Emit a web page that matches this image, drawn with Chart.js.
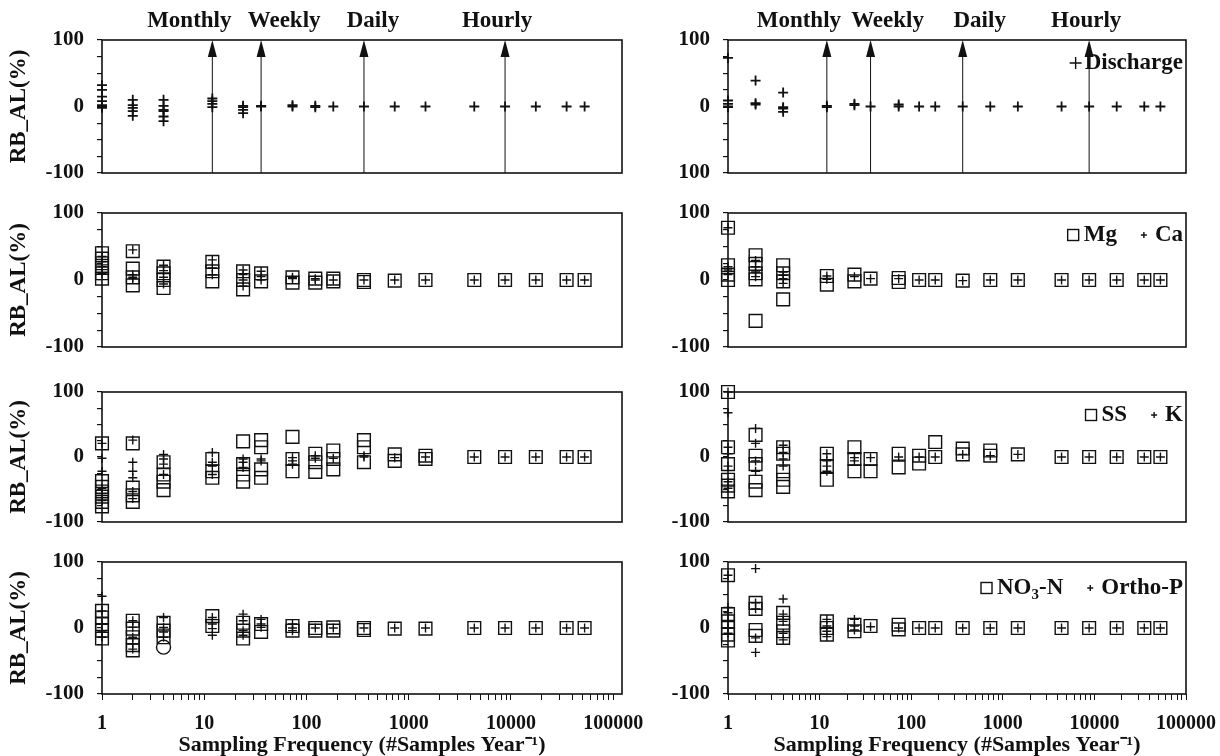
<!DOCTYPE html>
<html>
<head>
<meta charset="utf-8">
<script src="https://cdn.jsdelivr.net/npm/chart.js@4.4.1/dist/chart.umd.min.js"></script>
<style>
html, body { margin: 0; padding: 0; background: #fff; }
#wrap { position: relative; width: 1220px; height: 756px; }
#wrap canvas { position: absolute; left: 0; top: 0; }
</style>
</head>
<body>
<div id="wrap"></div>
<script>
// sampling frequencies (#samples per year), one column of markers each
const freqs = [1, 2, 4, 12, 24, 36, 73, 122, 183, 365, 730, 1460, 4380, 8760, 17520, 35040, 52560];
const xTickLabels = ['1', '10', '100', '1000', '10000', '100000'];
const yTickLabels = ['-100', '0', '100'];
const yTickLabelsRT = ['100', '0', '100'];
const markFreqs = [12, 36, 365, 8760];
const markNames = ['Monthly', 'Weekly', 'Daily', 'Hourly'];

// left column
const dischargeL = [[32, 25, 15, 8, 2, 0, -2], [10, 2, -2, -7, -14], [10, 1, -5, -7, -15, -22], [12, 8, 4, -1],
  [1, -1, -5, -10], [1, 0], [2, 0], [1, -1], [0], [0], [0], [0], [0], [0], [0], [0], [0]];
const mgL = [[40, 32, 25, 18, 10, 2], [43, 17, 4, -8], [20, 10, 0, -12], [27, 13, -2], [13, 0, -14], [10, -2],
  [4, -4], [2, -4], [2, -2], [0, -3], [-1], [0], [0], [0], [0], [0], [0]];
const caL = [[35, 27, 20, 10], [45, 8, 4, 2], [22, 14, 4, -6], [30, 18, 8], [15, 8, 0, -9], [13, 5, 0],
  [4, 2], [2, 0], [0], [0], [0], [0], [0], [0], [0], [0], [0]];
const ssL = [[21, -37, -46, -53, -61, -69, -76], [21, -47, -59, -69], [-8, -27, -38, -51], [-3, -22, -32],
  [24, -11, -27, -38], [26, 15, -19, -32], [31, -3, -22], [5, -8, -23], [10, -3, -19], [26, 15, -8],
  [4, -6], [2, -3], [0], [0], [0], [0], [0]];
const kL = [[21, -2, -22, -48, -59, -67], [26, -8, -22, -32, -53, -64], [4, -3, -11, -27], [7, -8, -14, -27],
  [-3, -8, -16], [-3, -6], [-1, -6, -11], [2, -2], [-2], [2, 0], [-1], [0], [0], [0], [0], [0], [0]];
const no3L = [[26, 16, 6, -4, -16], [11, -1, -14, -26, -34], [8, -4, -14], [18, 3], [8, -4, -16], [6, -6],
  [3, -4], [0, -4], [1, -4], [0, -3], [-1], [-1], [0], [0], [0], [0], [0]];
const orthoL = [[48, 26, 6, -6, -14], [11, 1, -14, -24, -32], [16, 1, -6, -14], [16, 6, -1, -11],
  [21, 11, -4, -11], [13, 6, 1], [6, 0, -4], [0], [0], [0], [0], [0], [0], [0], [0], [0], [0]];
const outlierFreqL = [4];
const outlierL = [-29];

// right column
const dischargeR = [[73, 9, 4, 0, -1], [39, 5, 3], [21, -1, -3, -8], [1, -1], [4, 2], [0], [3, 0],
  [0], [0], [0], [0], [0], [0], [0], [0], [0], [0]];
const mgR = [[78, 22, 8, 0], [37, 24, 10, 1, -61], [22, 10, -2, -29], [6, -7], [8, -2], [2], [3, -3],
  [0], [0], [-1], [0], [0], [0], [0], [0], [0], [0]];
const caR = [[78, 20, 15, 8], [29, 20, 12, 5], [12, 7, 2, -5], [6, 1], [5], [2], [2],
  [0], [0], [-1], [0], [0], [0], [0], [0], [0], [0]];
const ssR = [[100, 15, -11, -35, -44, -53], [34, 2, -11, -38, -51], [15, 5, -22, -35, -46], [5, -14, -35],
  [15, -3, -22], [-3, -22], [5, -16], [2, -10], [23, 0], [13, 4], [10, 2], [4], [0], [0], [0], [0], [0]];
const kR = [[100, 68, 15, 5, -14, -38, -48], [44, 21, -6, -22], [18, 7, -3, -14], [5, -6, -14, -22],
  [-1, -6], [-1], [0], [0], [0], [4], [2], [4], [0], [0], [0], [0], [0]];
const no3R = [[80, 21, 10, 0, -10, -19], [38, 29, -3, -12], [23, 8, -5, -15], [10, 0, -10], [5, -5], [3],
  [5, -2], [0], [0], [0], [0], [0], [0], [0], [0], [0], [0]];
const orthoR = [[80, 31, 23, 10, 0, -8], [90, 38, 29, -15, -37], [44, 21, 10, -8, -18], [13, 3, -5, -13],
  [13, 3, -3], [2], [0], [0], [0], [0], [0], [0], [0], [0], [0], [0], [0]];

const FONT = 'Liberation Serif';
const INK = '#111';
const wrap = document.getElementById('wrap');

function pts(vals) {
  const out = [];
  vals.forEach((col, i) => col.forEach(v => out.push({ x: freqs[i], y: v })));
  return out;
}

function squares(label, vals) {
  return { label: label, data: pts(vals), pointStyle: 'rect', pointRadius: 9, pointBorderWidth: 1.4,
    borderColor: INK, backgroundColor: 'rgba(0,0,0,0)', clip: false, kind: 'rect' };
}
function crosses(label, vals, r, w) {
  return { label: label, data: pts(vals), pointStyle: 'cross', pointRadius: r || 4.5, pointBorderWidth: w || 1.4,
    borderColor: INK, backgroundColor: INK, clip: false, kind: 'cross' };
}

// draws text with unicode subscript digits lowered
const SUBS = '₀₁₂₃₄₅₆₇₈₉';
function richParts(text) {
  const parts = [];
  for (const ch of text) {
    const sub = SUBS.indexOf(ch) >= 0;
    const c = sub ? String(SUBS.indexOf(ch)) : ch;
    if (parts.length && parts[parts.length - 1].sub === sub) parts[parts.length - 1].t += c;
    else parts.push({ t: c, sub: sub });
  }
  return parts;
}
function richWidth(ctx, text, size) {
  let w = 0;
  richParts(text).forEach(p => {
    ctx.font = 'bold ' + (p.sub ? size * 0.65 : size) + 'px "' + FONT + '"';
    w += ctx.measureText(p.t).width;
  });
  return w;
}
function drawRich(ctx, text, x, y, size) {
  richParts(text).forEach(p => {
    ctx.font = 'bold ' + (p.sub ? size * 0.65 : size) + 'px "' + FONT + '"';
    ctx.fillText(p.t, x, p.sub ? y + size * 0.3 : y);
    x += ctx.measureText(p.t).width;
  });
}

function makePanel(p) {
  const canvas = document.createElement('canvas');
  canvas.width = 1220;
  canvas.height = 756;
  wrap.appendChild(canvas);
  const axisLeft = p.col === 0 ? 0 : 640;
  const bottomRow = p.row === 3;
  const yLabels = p.yLabels || yTickLabels;

  const frame = {
    id: 'frame',
    afterDraw(chart) {
      const ca = chart.chartArea, ctx = chart.ctx;
      ctx.save();
      ctx.strokeStyle = INK;
      ctx.lineWidth = 1.6;
      ctx.strokeRect(ca.left, ca.top, ca.right - ca.left, ca.bottom - ca.top);
      ctx.restore();
    }
  };

  const marks = {
    id: 'marks',
    afterDatasetsDraw(chart) {
      if (p.row !== 0) return;
      const ca = chart.chartArea, ctx = chart.ctx, xs = chart.scales.x;
      ctx.save();
      ctx.strokeStyle = INK;
      ctx.fillStyle = INK;
      markFreqs.forEach((f, i) => {
        const px = xs.getPixelForValue(f);
        ctx.lineWidth = 1;
        ctx.beginPath();
        ctx.moveTo(px, ca.bottom);
        ctx.lineTo(px, ca.top + 12);
        ctx.stroke();
        ctx.beginPath();
        ctx.moveTo(px, ca.top);
        ctx.lineTo(px - 4.5, ca.top + 17);
        ctx.lineTo(px + 4.5, ca.top + 17);
        ctx.closePath();
        ctx.fill();
        ctx.font = 'bold 23px "' + FONT + '"';
        ctx.textAlign = 'center';
        ctx.textBaseline = 'middle';
        ctx.fillText(markNames[i], px + p.markOff[i], 21);
      });
      ctx.restore();
    }
  };

  const legendBox = {
    id: 'legendBox',
    afterDraw(chart) {
      if (!p.legend) return;
      const ca = chart.chartArea, ctx = chart.ctx;
      const size = 23;
      const y = ca.top + p.legendY;
      const sets = chart.data.datasets;
      ctx.save();
      ctx.fillStyle = INK;
      ctx.strokeStyle = INK;
      ctx.textAlign = 'left';
      ctx.textBaseline = 'middle';
      let xr = ca.right - 3;
      for (let i = sets.length - 1; i >= 0; i--) {
        const ds = sets[i];
        if (!ds.label) continue;
        const w = richWidth(ctx, ds.label, size);
        drawRich(ctx, ds.label, xr - w, y, size);
        xr -= w;
        if (ds.kind === 'rect') {
          xr -= 5;
          ctx.lineWidth = 1.4;
          ctx.strokeRect(xr - 11, y - 5.5, 11, 11);
          xr -= 11;
        } else {
          const s = p.row === 0 ? 12 : 6;
          xr -= p.row === 0 ? 3 : 8;
          ctx.lineWidth = 1.4;
          ctx.beginPath();
          ctx.moveTo(xr - s, y); ctx.lineTo(xr, y);
          ctx.moveTo(xr - s / 2, y - s / 2); ctx.lineTo(xr - s / 2, y + s / 2);
          ctx.stroke();
          xr -= s;
        }
        xr -= 24;
      }
      ctx.restore();
    }
  };

  const xScale = {
    type: 'logarithmic',
    min: 1,
    max: p.xmax,
    display: bottomRow,
    afterBuildTicks: s => {
      const t = [];
      for (let e = 0; e <= 5; e++) {
        for (let m = 1; m <= 9; m++) {
          const v = m * Math.pow(10, e);
          if (v <= s.max) t.push({ value: v });
        }
      }
      s.ticks = t;
    },
    border: { display: false },
    grid: { drawOnChartArea: false, drawTicks: true, tickLength: 6, color: INK, lineWidth: 1 },
    ticks: {
      autoSkip: false, maxRotation: 0, padding: 12, color: INK,
      font: { family: FONT, size: 20, weight: 'bold' },
      callback: v => xTickLabels.includes(String(v)) ? String(v) : ''
    },
    title: {
      display: true, text: 'Sampling Frequency (#Samples Year⁻¹)', color: INK,
      font: { family: FONT, size: 22, weight: 'bold', lineHeight: 1 }, padding: { top: 0, bottom: 0 }
    }
  };
  if (bottomRow) {
    xScale.afterFit = s => {
      s.height = 756 - p.b;
      s.paddingLeft = 0;
      s.paddingRight = 0;
    };
  }

  new Chart(canvas, {
    type: 'scatter',
    data: { datasets: p.datasets },
    options: {
      responsive: false,
      animation: false,
      events: [],
      layout: { padding: { left: axisLeft, top: p.t, right: 1220 - p.r, bottom: bottomRow ? 0 : 756 - p.b } },
      plugins: { legend: { display: false }, tooltip: { enabled: false } },
      scales: {
        x: xScale,
        y: {
          min: -100,
          max: 100,
          afterFit: s => { s.width = p.l - axisLeft; },
          afterBuildTicks: s => {
            const t = [];
            for (let v = -100; v <= 100; v += 25) t.push({ value: v });
            s.ticks = t;
          },
          border: { display: false },
          grid: { drawOnChartArea: false, drawTicks: true, tickLength: 5, color: INK, lineWidth: 1.2 },
          ticks: {
            autoSkip: false, padding: 13, color: INK,
            font: { family: FONT, size: 21, weight: 'bold' },
            callback: v => v % 100 === 0 ? yLabels[(v + 100) / 100] : ''
          },
          title: {
            display: p.col === 0, text: 'RB_AL(%)', color: INK,
            font: { family: FONT, size: 23, weight: 'bold', lineHeight: 1 }, padding: { top: 8, bottom: 0 }
          }
        }
      }
    },
    plugins: [frame, marks, legendBox]
  });
}

const rowsY = [[40, 173], [213, 347], [392, 522], [562, 694]];
const colsX = [[102, 622, 122000], [728, 1186, 100000]];
const markOffsets = [[-23, 23, 9, -8], [-28, 17, 17, -3]];

const panelSets = [
  [[crosses('', dischargeL, 5, 1.8)], [crosses('Discharge', dischargeR, 5, 1.8)]],
  [[squares('', mgL), crosses('', caL)], [squares('Mg', mgR), crosses('Ca', caR)]],
  [[squares('', ssL), crosses('', kL)], [squares('SS', ssR), crosses('K', kR)]],
  [[squares('', no3L), crosses('', orthoL),
    { label: '', data: outlierFreqL.map((f, i) => ({ x: f, y: outlierL[i] })), pointStyle: 'circle',
      pointRadius: 7, pointBorderWidth: 1.4, borderColor: INK, backgroundColor: 'rgba(0,0,0,0)', clip: false }],
   [squares('NO₃-N', no3R), crosses('Ortho-P', orthoR)]]
];
const legendYs = [23, 22, 23, 26];

for (let row = 0; row < 4; row++) {
  for (let col = 0; col < 2; col++) {
    makePanel({
      row: row, col: col,
      l: colsX[col][0], r: colsX[col][1], xmax: colsX[col][2],
      t: rowsY[row][0], b: rowsY[row][1],
      datasets: panelSets[row][col],
      legend: col === 1,
      legendY: legendYs[row],
      markOff: markOffsets[col],
      yLabels: (row === 0 && col === 1) ? yTickLabelsRT : yTickLabels
    });
  }
}
</script>
</body>
</html>
